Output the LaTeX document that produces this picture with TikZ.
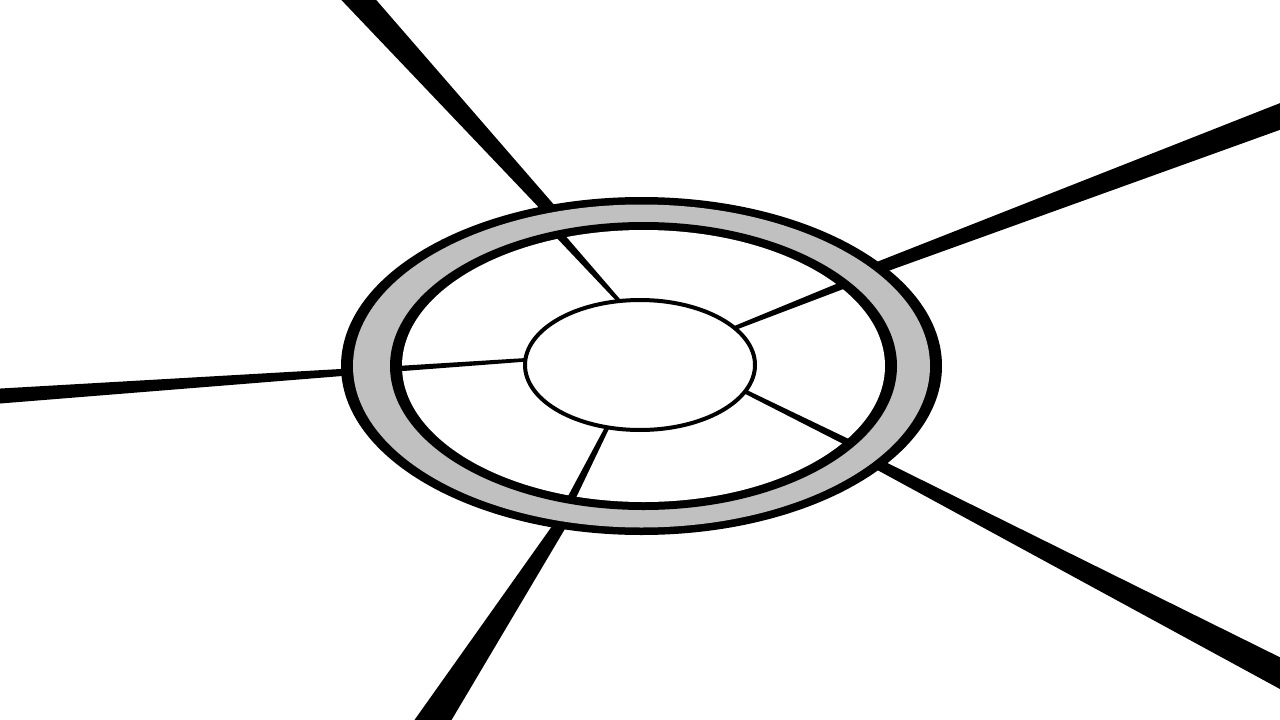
\documentclass[tikz,border=0pt]{standalone}
\usetikzlibrary{calc}
\definecolor{ringgray}{RGB}{192,192,192}
\newcommand{\spokepoly}[4]{%
  \fill[black] ($(#1)!#3!90:(#2)$) -- ($(#2)!#4!-90:(#1)$) -- ($(#2)!#4!90:(#1)$) -- ($(#1)!#3!-90:(#2)$) -- cycle;}
\begin{document}
\begin{tikzpicture}[x=1pt,y=-1pt]
\useasboundingbox (0,0) rectangle (1280,720);
\fill[white] (0,0) rectangle (1280,720);
\clip (0,0) rectangle (1280,720);
% outer spoke coordinates
\coordinate (o1s) at (561,222);   \coordinate (o1e) at (341,-20);
\coordinate (o2s) at (862,274.1); \coordinate (o2e) at (1300,109);
\coordinate (o3s) at (372,370.4); \coordinate (o3e) at (-20,397.4);
\coordinate (o4s) at (568.7,512); \coordinate (o4e) at (420.5,740);
\coordinate (o5s) at (862,456);   \coordinate (o5e) at (1300,683.4);
% inner spoke coordinates
\coordinate (i1s) at (624.5,307); \coordinate (i1e) at (558.5,234);
\coordinate (i2s) at (731,329.5); \coordinate (i2e) at (845,284.4);
\coordinate (i3s) at (532,359.4); \coordinate (i3e) at (396,368.8);
\coordinate (i4s) at (610,422);   \coordinate (i4e) at (570.5,500);
\coordinate (i5s) at (740,389);   \coordinate (i5e) at (848,442.5);
% outer spokes
\spokepoly{o1s}{o1e}{6pt}{13.5pt}
\spokepoly{o2s}{o2e}{5.9pt}{12.8pt}
\spokepoly{o3s}{o3e}{3.2pt}{7.7pt}
\spokepoly{o4s}{o4e}{5.4pt}{16.5pt}
\spokepoly{o5s}{o5e}{5pt}{14.5pt}
% ring
\fill[black] (641.5,366) ellipse [x radius=300.5pt, y radius=169pt];
\fill[ringgray] (641.5,366) ellipse [x radius=288.5pt, y radius=161.5pt];
\fill[black] (643.5,366) ellipse [x radius=253.5pt, y radius=144pt];
\fill[white] (643.5,366) ellipse [x radius=241.5pt, y radius=136pt];
% inner spokes
\spokepoly{i1s}{i1e}{1.75pt}{4pt}
\spokepoly{i2s}{i2e}{2pt}{3.75pt}
\spokepoly{i3s}{i3e}{1.75pt}{2.75pt}
\spokepoly{i4s}{i4e}{2pt}{4pt}
\spokepoly{i5s}{i5e}{2pt}{3.5pt}
% hub
\filldraw[fill=white,draw=black,line width=4pt] (640,365) ellipse [x radius=115pt, y radius=65pt];
\end{tikzpicture}
\end{document}
